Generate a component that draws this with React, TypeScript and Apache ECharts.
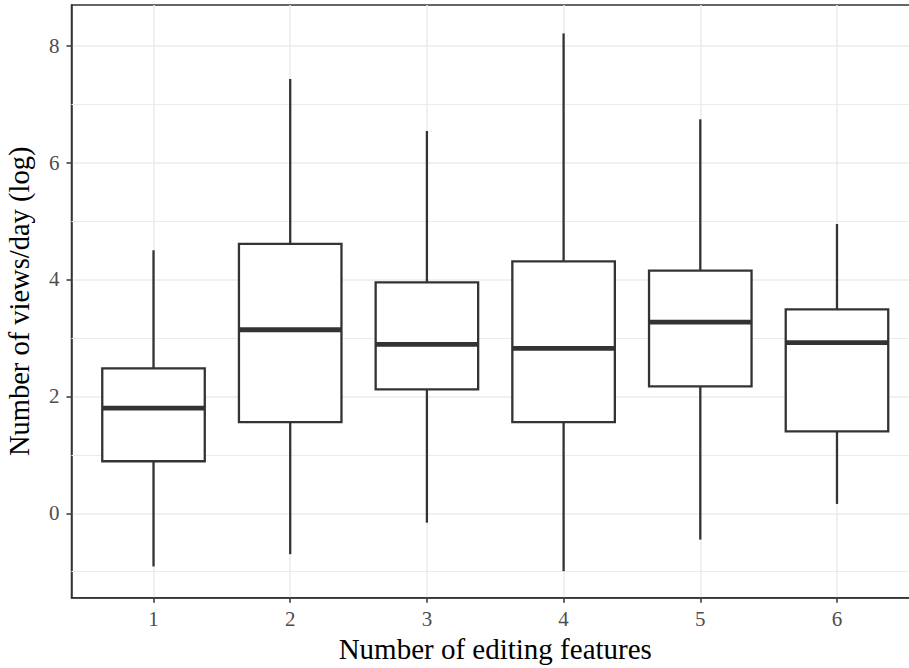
import React, { useEffect, useRef } from "react";
import * as echarts from "echarts";

const categories = ["1", "2", "3", "4", "5", "6"];
const lowerWhisker = [-0.91, -0.7, -0.16, -0.99, -0.45, 0.16];
const q1Values = [0.89, 1.56, 2.12, 1.56, 2.17, 1.4];
const medianValues = [1.8, 3.14, 2.89, 2.82, 3.27, 2.92];
const q3Values = [2.48, 4.61, 3.95, 4.31, 4.15, 3.49];
const upperWhisker = [4.5, 7.43, 6.54, 8.21, 6.74, 4.95];
const yTickValues = [0, 2, 4, 6, 8];
const yMinorGrid = [-1, 1, 3, 5, 7];

const FONT = "'Liberation Serif', 'DejaVu Serif', serif";
const DARK = "#333333";

export default function App() {
  const ref = useRef<HTMLDivElement>(null);
  useEffect(() => {
    if (!ref.current) return;
    const chart = echarts.init(ref.current, null, { renderer: "svg" });
    const xPositions = categories.map((c, i) => i + 1);
    const data = categories.map((c, i) => [
      i + 1,
      lowerWhisker[i],
      q1Values[i],
      medianValues[i],
      q3Values[i],
      upperWhisker[i],
    ]);
    chart.setOption({
      animation: false,
      backgroundColor: "#ffffff",
      grid: {
        left: 71.5,
        top: 5,
        right: -10,
        bottom: 70.3,
        outerBoundsMode: "none",
        containLabel: false,
        show: true,
        borderColor: DARK,
        borderWidth: 1.5,
        backgroundColor: "#ffffff",
      },
      xAxis: {
        type: "value",
        min: 0.4,
        max: 6.6,
        minInterval: 1,
        maxInterval: 1,
        name: "Number of editing features",
        nameLocation: "middle",
        nameGap: 37,
        nameTextStyle: { fontFamily: FONT, fontSize: 29, color: "#000000" },
        axisLine: { show: true, onZero: false, lineStyle: { color: DARK, width: 1.5 } },
        axisTick: {
          show: true,
          length: 5,
          customValues: xPositions,
          lineStyle: { color: DARK, width: 1.5 },
        },
        axisLabel: {
          show: true,
          customValues: xPositions,
          margin: 11,
          fontFamily: FONT,
          fontSize: 21,
          color: "#4d4d4d",
          formatter: (v: number) =>
            Number.isInteger(v) && v >= 1 && v <= categories.length ? categories[v - 1] : "",
        },
        splitLine: { show: true, lineStyle: { color: "#ebebeb", width: 1.5 } },
      },
      yAxis: {
        type: "value",
        min: -1.444,
        max: 8.696,
        minInterval: 2,
        maxInterval: 2,
        name: "Number of views/day (log)",
        nameLocation: "middle",
        nameGap: 38,
        nameTextStyle: { fontFamily: FONT, fontSize: 28.5, color: "#000000" },
        axisLine: { show: true, onZero: false, lineStyle: { color: DARK, width: 1.5 } },
        axisTick: {
          show: true,
          length: 5,
          customValues: yTickValues,
          lineStyle: { color: DARK, width: 1.5 },
        },
        axisLabel: {
          show: true,
          customValues: yTickValues,
          margin: 12,
          fontFamily: FONT,
          fontSize: 21,
          color: "#4d4d4d",
          formatter: (v: number) => (yTickValues.indexOf(v) >= 0 ? String(v) : ""),
        },
        splitLine: { show: true, lineStyle: { color: "#ebebeb", width: 1.5 } },
      },
      series: [
        {
          type: "line",
          data: [],
          silent: true,
          z: 1,
          markLine: {
            silent: true,
            symbol: "none",
            label: { show: false },
            lineStyle: { color: "#ebebeb", width: 1, type: "solid" },
            data: yMinorGrid.map((v) => ({ yAxis: v })),
          },
        },
        {
          type: "custom",
          z: 5,
          data,
          encode: { x: 0, y: [1, 2, 3, 4, 5] },
          renderItem: (params: any, api: any) => {
            const x = api.value(0);
            const lo = api.coord([x, api.value(1)]);
            const q1 = api.coord([x, api.value(2)]);
            const md = api.coord([x, api.value(3)]);
            const q3 = api.coord([x, api.value(4)]);
            const hi = api.coord([x, api.value(5)]);
            const w = api.size([0.75, 0])[0];
            const cx = lo[0];
            const left = cx - w / 2;
            return {
              type: "group",
              children: [
                {
                  type: "line",
                  shape: { x1: cx, y1: lo[1], x2: cx, y2: q1[1] },
                  style: { stroke: DARK, lineWidth: 2.3 },
                },
                {
                  type: "line",
                  shape: { x1: cx, y1: q3[1], x2: cx, y2: hi[1] },
                  style: { stroke: DARK, lineWidth: 2.3 },
                },
                {
                  type: "rect",
                  shape: { x: left, y: q3[1], width: w, height: q1[1] - q3[1] },
                  style: { fill: "#ffffff", stroke: DARK, lineWidth: 2.3 },
                },
                {
                  type: "line",
                  shape: { x1: left, y1: md[1], x2: left + w, y2: md[1] },
                  style: { stroke: DARK, lineWidth: 4.8 },
                },
              ],
            };
          },
        },
      ],
    });
    return () => chart.dispose();
  }, []);
  return <div ref={ref} style={{ width: 909, height: 668, position: "absolute", left: 0, top: 0 }} />;
}
